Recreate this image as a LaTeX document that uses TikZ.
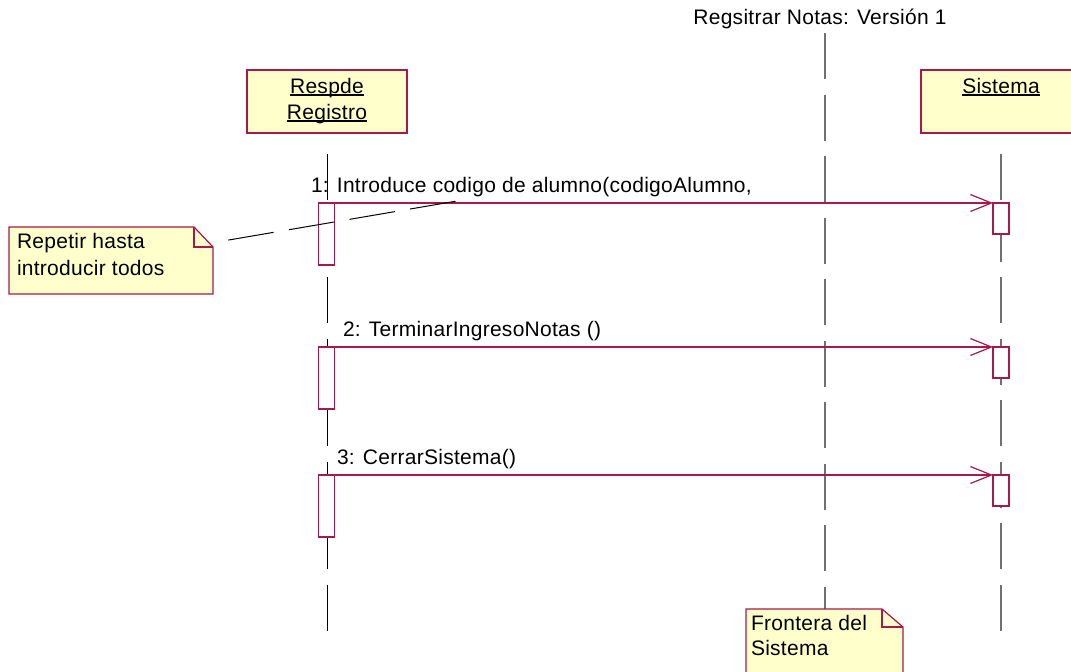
\documentclass[tikz,border=0pt]{standalone}
\usepackage{fontspec}
\setmainfont{Liberation Sans}[LetterSpace=1.3]
\usetikzlibrary{arrows.meta}
\definecolor{rosefill}{RGB}{255,255,204}
\definecolor{roseline}{RGB}{168,24,72}
\definecolor{lifegrey}{RGB}{112,112,112}

\begin{document}
\begin{tikzpicture}[x=1pt,y=-1pt,
  every node/.style={inner sep=0pt, outer sep=0pt},
  txt/.style={font=\fontsize{21}{24}\selectfont, text=black},
  objbox/.style={draw=roseline, fill=rosefill, line width=1.2pt, anchor=north west},
  actbox/.style={draw=roseline, fill=white, line width=1.1pt, minimum width=16pt, anchor=north west},
  lifeline/.style={line width=1.1pt, dash pattern=on 46pt off 15.5pt},
  msg/.style={draw=roseline, line width=1.1pt, -{Straight Barb[length=21pt,width=17pt,line width=1.2pt]}},
  noteshape/.style={draw=roseline, fill=rosefill, line width=1.2pt, line join=miter},
  notefold/.style={draw=roseline, line width=1.2pt},
  anchorline/.style={line width=1pt, dash pattern=on 46pt off 15.5pt, dash phase=46pt},
  uline/.style={line width=1.3pt}
]
\useasboundingbox (0,0) rectangle (1071,672);
\begin{scope}
\clip (0,0) rectangle (1071,672);

% title
\node[txt, anchor=base] (title) at (820,24) {Regsitrar Notas: Versión 1};

% lifelines (drawn first so the activations sit on top)
\coordinate (rtop) at (327,154);
\coordinate (rbot) at (327,631);
\coordinate (stop) at (1001,154);
\coordinate (sbot) at (1001,631);
\coordinate (btop) at (825,33);
\draw[lifeline, black, line width=1pt] (rtop) -- (rbot);
\draw[lifeline, lifegrey] (stop) -- (sbot);

% objects
\node[objbox, minimum width=160pt, minimum height=63pt] (resp) at (247,70) {};
\node[objbox, minimum width=152pt, minimum height=63pt] (sis) at (921,70) {};
\node[txt, anchor=base] (resp1) at (327,93) {Respde};
\node[txt, anchor=base] (resp2) at (327,119) {Registro};
\node[txt, anchor=base] (sis1) at (1001,93) {Sistema};
\draw[uline] ([yshift=-2pt]resp1.base west) -- ([yshift=-2pt]resp1.base east);
\draw[uline] ([yshift=-2pt]resp2.base west) -- ([yshift=-2pt]resp2.base east);
\draw[uline] ([yshift=-2pt]sis1.base west) -- ([yshift=-2pt]sis1.base east);

% boundary note
\node[minimum width=157pt, minimum height=80pt, anchor=north west] (note2) at (746,609) {};
\draw[lifeline, lifegrey] (btop) -- (note2.north west -| btop);
\draw[noteshape] (note2.north west) -- ([xshift=-21pt]note2.north east) -- ([yshift=-18pt]note2.north east)
  -- (note2.south east) -- (note2.south west) -- cycle;
\draw[notefold] ([xshift=-21pt]note2.north east) |- ([yshift=-18pt]note2.north east);
\node[txt, anchor=base west] (note2a) at (751,630) {Frontera del};
\node[txt, anchor=base west] (note2b) at (751,655) {Sistema};

% activations
\node[actbox, minimum height=62pt] (ra1) at (318.5,203) {};
\node[actbox, minimum height=31pt] (sa1) at (993,203) {};
\node[actbox, minimum height=62pt] (ra2) at (318.5,347) {};
\node[actbox, minimum height=31pt] (sa2) at (993,347) {};
\node[actbox, minimum height=62pt] (ra3) at (318.5,475) {};
\node[actbox, minimum height=31pt] (sa3) at (993,475) {};

% messages
\draw[msg] (ra1.north east) -- (sa1.north west);
\draw[msg] (ra2.north east) -- (sa2.north west);
\draw[msg] (ra3.north east) -- (sa3.north west);
\node[txt, anchor=base west] (m1) at (311,192) {1: Introduce codigo de alumno(codigoAlumno,};
\node[txt, anchor=base west] (m2) at (343,336) {2: TerminarIngresoNotas ()};
\node[txt, anchor=base west] (m3) at (337,464) {3: CerrarSistema()};

% repeat note with its anchor
\node[minimum width=204pt, minimum height=67pt, anchor=north west] (note1) at (9,227) {};
\draw[noteshape] (note1.north west) -- ([xshift=-19pt]note1.north east) -- ([yshift=-20pt]note1.north east)
  -- (note1.south east) -- (note1.south west) -- cycle;
\draw[notefold] ([xshift=-19pt]note1.north east) |- ([yshift=-20pt]note1.north east);
\node[txt, anchor=base west] (note1a) at (17,248) {Repetir hasta};
\node[txt, anchor=base west] (note1b) at (17,275) {introducir todos};
\coordinate (n1anchor) at (213,242.7);
\coordinate (m1anchor) at (457,201);
\draw[anchorline] (n1anchor) -- (m1anchor);
\end{scope}
\end{tikzpicture}
\end{document}
